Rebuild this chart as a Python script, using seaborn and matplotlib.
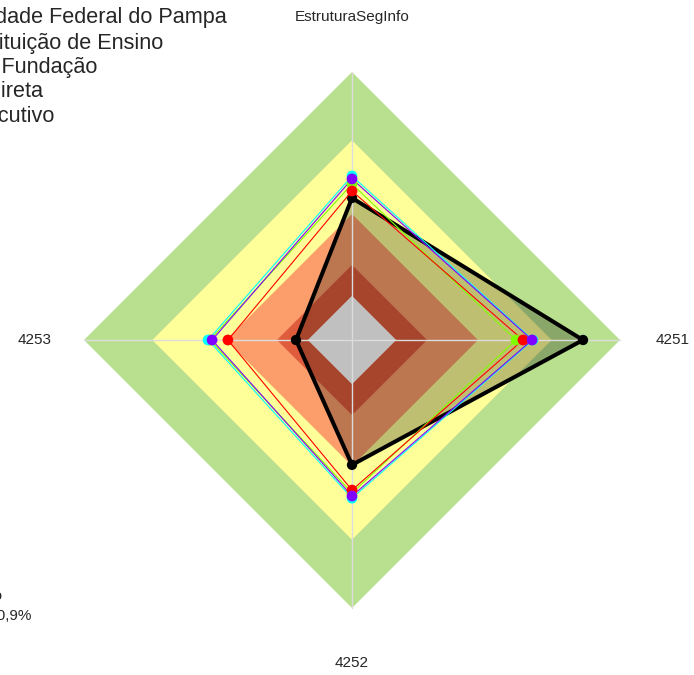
import numpy as np
import pandas as pd
import matplotlib
matplotlib.use("Agg")
import matplotlib.pyplot as plt
import seaborn as sns

sns.set_style("white")
plt.rcParams["font.family"] = ["Liberation Sans", "DejaVu Sans"]

# %% Data
CATEGORIES = ["EstruturaSegInfo", "4251", "4252", "4253"]

SERIES = ["Universidade Federal do Pampa", "Instituição de Ensino",
          "Autarquia e Fundação", "Administração Indireta", "Poder Executivo"]
UNIPAMPA = [0.530, 0.862, 0.466, 0.209]
ENSINO   = [0.582, 0.612, 0.571, 0.530]
FUNDACAO = [0.556, 0.638, 0.560, 0.463]
INDIRETA = [0.612, 0.675, 0.590, 0.537]
EXECUTIVO = [0.601, 0.672, 0.582, 0.522]
SERIES_VALUES = [UNIPAMPA, ENSINO, FUNDACAO, INDIRETA, EXECUTIVO]
SERIES_COLORS = ["black", "#80ff00", "#ff0000", "#00ffff", "#8000ff"]

# maturity bands (outer to inner) and the grey centre
BAND_LEVELS = [1.0, 0.745, 0.47, 0.28]
BAND_COLORS = ["#b9e08e", "#ffff99", "#fc9e6c", "#de5b3b"]
CENTER_LEVEL = 0.165
CENTER_COLOR = "#c0c0c0"

LEGEND_TEXT = SERIES
FOOT_TEXT = ["Intermediário", "iGG: 50,9%"]


def to_xy(values, close=True):
    n = len(values)
    theta = np.pi / 2 - np.arange(n) * 2 * np.pi / n
    r = np.asarray(values, dtype=float)
    x, y = r * np.cos(theta), r * np.sin(theta)
    if close:
        x, y = np.append(x, x[0]), np.append(y, y[0])
    return x, y


rows = []
for name, vals in zip(SERIES, SERIES_VALUES):
    x, y = to_xy(vals)
    for i, (xi, yi) in enumerate(zip(x, y)):
        rows.append({"serie": name, "idx": i, "x": xi, "y": yi,
                     "closing": i == len(vals)})
df = pd.DataFrame(rows)
palette = dict(zip(SERIES, SERIES_COLORS))

# %% Figure
fig = plt.figure(figsize=(6.94, 6.75), dpi=100)
ax = fig.add_axes([0, 0, 1, 1])
SCALE = 268
ax.set_xlim(-352 / SCALE, 342 / SCALE)
ax.set_ylim(-335 / SCALE, 340 / SCALE)
ax.axis("off")

for lvl, col in zip(BAND_LEVELS, BAND_COLORS):
    bx, by = to_xy([lvl] * len(CATEGORIES))
    ax.fill(bx, by, color=col, lw=0, zorder=1)

# focal organisation fill
fx, fy = to_xy(UNIPAMPA)
ax.fill(fx, fy, color="black", alpha=0.25, lw=0, zorder=2)

cx, cy = to_xy([CENTER_LEVEL] * len(CATEGORIES))
ax.fill(cx, cy, color=CENTER_COLOR, lw=0, zorder=3)

sx, sy = to_xy([1.0] * len(CATEGORIES), close=False)
for xe, ye in zip(sx, sy):
    ax.plot([0, xe], [0, ye], color="#dcdcdc", lw=1.0, zorder=4)

main = df[df["serie"] == SERIES[0]]
sns.lineplot(data=main, x="x", y="y", sort=False, estimator=None,
             color="black", lw=2.9, ax=ax, legend=False, zorder=5)
sns.scatterplot(data=main[~main["closing"]], x="x", y="y", color="black",
                s=55, edgecolor="none", ax=ax, legend=False, zorder=6)

others = df[df["serie"] != SERIES[0]]
sns.lineplot(data=others, x="x", y="y", hue="serie", palette=palette,
             sort=False, estimator=None, lw=0.8, ax=ax, legend=False, zorder=7)
sns.scatterplot(data=others[~others["closing"]], x="x", y="y", hue="serie",
                palette=palette, s=60, edgecolor="none", ax=ax,
                legend=False, zorder=8)

# axis labels
lx, ly = to_xy([1.205, 1.198, 1.205, 1.183], close=False)
for lab, xl, yl in zip(CATEGORIES, lx, ly):
    ax.text(xl, yl, lab, ha="center", va="center", fontsize=11)

# legend text (overflowing the left edge, as in the source)
leg_right = [227, 163, 97, 43, 54]
leg_y = [17, 43, 67, 92, 117]
for txt, xr, yp in zip(LEGEND_TEXT, leg_right, leg_y):
    fig.text(xr / 694, 1 - yp / 675, txt, ha="right", va="center", fontsize=15.6)

fig.text(3 / 694, 1 - 596 / 675, FOOT_TEXT[0], ha="right", va="center", fontsize=11)
fig.text(31 / 694, 1 - 616 / 675, FOOT_TEXT[1], ha="right", va="center", fontsize=11)

fig.savefig("out.png", dpi=100)
plt.close(fig)
